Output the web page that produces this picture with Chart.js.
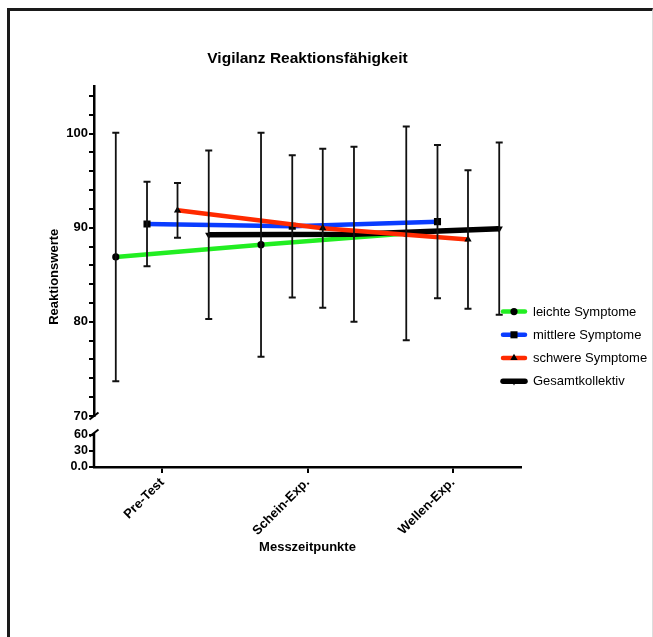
<!DOCTYPE html>
<html>
<head>
<meta charset="utf-8">
<script src="https://cdn.jsdelivr.net/npm/chart.js@4/dist/chart.umd.min.js"></script>
<style>
  html, body { margin: 0; padding: 0; background: #fff; }
  #page { position: absolute; left: 7px; top: 8px; width: 642px; height: 640px;
          border-top: 3px solid #1a1a1a; border-left: 3px solid #1a1a1a; border-right: 1px solid #ddd; }
  #c { position: absolute; left: 0; top: 0; z-index: 2; }
</style>
</head>
<body>
<div id="page"></div>
<canvas id="c" width="653" height="637"></canvas>
<script>
// ---- data ----
const categories = ['Pre-Test', 'Schein-Exp.', 'Wellen-Exp.'];
const seriesNames = ['leichte Symptome', 'mittlere Symptome', 'schwere Symptome', 'Gesamtkollektiv'];
const leichteMean  = [86.9, 88.2, 89.4];
const leichteSD    = [13.2, 11.9, 11.35];
const mittlereMean = [90.4, 90.15, 90.65];
const mittlereSD   = [4.5, 7.55, 8.15];
const schwereMean  = [91.85, 89.95, 88.75];
const schwereSD    = [2.9, 8.45, 7.35];
const gesamtMean   = [89.25, 89.3, 89.9];
const gesamtSD     = [8.95, 9.3, 9.15];
const yUpperLabels = [70, 80, 90, 100];
const yLowerTicks  = [0, 30, 60];
const chartTitle = 'Vigilanz Reaktionsfähigkeit';
const xTitle = 'Messzeitpunkte';
const yTitle = 'Reaktionswerte';

// ---- styling / dodge ----
const FONT = "'Liberation Sans', Arial, Helvetica, sans-serif";
const dodge = [-0.32, -0.105, 0.105, 0.32];
const styles = [
  {color: '#22ee22', point: 'circle',   rot: 0,   radius: 3.6, width: 4.5, order: 3},
  {color: '#0a3cff', point: 'rect',     rot: 0,   radius: 5,   width: 4.5, order: 1},
  {color: '#ff2a00', point: 'triangle', rot: 0,   radius: 4.2, width: 4.5, order: 0},
  {color: '#000000', point: 'triangle', rot: 180, radius: 4.2, width: 5.5, order: 2}
];
const means = [leichteMean, mittlereMean, schwereMean, gesamtMean];
const sds = [leichteSD, mittlereSD, schwereSD, gesamtSD];

const datasets = seriesNames.map((name, s) => ({
  label: name,
  data: means[s].map((m, i) => ({x: i + dodge[s], y: m})),
  errors: sds[s],
  yAxisID: 'y',
  borderColor: styles[s].color,
  backgroundColor: '#000',
  borderWidth: styles[s].width,
  pointStyle: styles[s].point,
  pointRotation: styles[s].rot,
  pointRadius: styles[s].radius,
  pointBackgroundColor: '#000',
  pointBorderColor: '#000',
  pointBorderWidth: 0,
  tension: 0,
  order: styles[s].order,
  _legendRadius: styles[s].radius
}));

function marker(ctx, style, rot, r, x, y) {
  ctx.save();
  ctx.fillStyle = '#000';
  ctx.translate(x, y);
  ctx.rotate(rot * Math.PI / 180);
  ctx.beginPath();
  if (style === 'circle') {
    ctx.arc(0, 0, r, 0, Math.PI * 2);
  } else if (style === 'rect') {
    const h = r * Math.SQRT1_2;
    ctx.rect(-h, -h, 2 * h, 2 * h);
  } else {
    ctx.moveTo(0, -r);
    ctx.lineTo(r * 0.866, r * 0.5);
    ctx.lineTo(-r * 0.866, r * 0.5);
    ctx.closePath();
  }
  ctx.fill();
  ctx.restore();
}

const decor = {
  id: 'decor',
  afterDatasetsDraw(chart) {
    const ctx = chart.ctx;
    const xs = chart.scales.x, ys = chart.scales.y;
    ctx.save();
    ctx.strokeStyle = '#111';
    chart.data.datasets.forEach(ds => {
      ds.data.forEach((p, i) => {
        const e = ds.errors[i];
        const px = xs.getPixelForValue(p.x);
        const top = ys.getPixelForValue(p.y + e);
        const bot = ys.getPixelForValue(p.y - e);
        ctx.lineWidth = 1.8;
        ctx.beginPath();
        ctx.moveTo(px, top); ctx.lineTo(px, bot);
        ctx.stroke();
        ctx.lineWidth = 2;
        ctx.beginPath();
        ctx.moveTo(px - 3.5, top); ctx.lineTo(px + 3.5, top);
        ctx.moveTo(px - 3.5, bot); ctx.lineTo(px + 3.5, bot);
        ctx.stroke();
      });
    });
    ctx.restore();
  },
  afterDraw(chart) {
    const ctx = chart.ctx;
    const a = chart.chartArea;
    const yl = chart.scales.yLow, yu = chart.scales.y;
    const ax = yu.right;
    ctx.save();
    // lower axis segment
    ctx.strokeStyle = '#000';
    ctx.lineWidth = 2.5;
    ctx.beginPath();
    ctx.moveTo(ax, yl.getPixelForValue(0) + 1);
    ctx.lineTo(ax, yl.getPixelForValue(60) - 2);
    ctx.stroke();
    // break marks
    ctx.lineWidth = 2;
    const b1 = yu.getPixelForValue(70), b2 = yl.getPixelForValue(60) - 2;
    [b1, b2].forEach(by => {
      ctx.beginPath();
      ctx.moveTo(ax - 4.5, by + 3.5);
      ctx.lineTo(ax + 4.5, by - 3.5);
      ctx.stroke();
    });
    // y title
    ctx.fillStyle = '#000';
    ctx.font = 'bold 13px ' + FONT;
    ctx.textAlign = 'center';
    ctx.textBaseline = 'middle';
    ctx.translate(a.left - 40, (a.top + a.bottom) / 2);
    ctx.rotate(-Math.PI / 2);
    ctx.fillText(yTitle, 0, 0);
    ctx.restore();
    // legend
    ctx.save();
    chart.data.datasets.forEach((ds, k) => {
      const y = a.top + 225 + k * 23.2;
      const x0 = a.right - 18, x1 = a.right + 4;
      ctx.strokeStyle = ds.borderColor;
      ctx.lineWidth = ds.borderWidth;
      ctx.lineCap = 'round';
      ctx.beginPath();
      ctx.moveTo(x0, y); ctx.lineTo(x1, y);
      ctx.stroke();
      marker(ctx, ds.pointStyle, ds.pointRotation, ds._legendRadius, (x0 + x1) / 2, y);
      ctx.fillStyle = '#000';
      ctx.font = '13px ' + FONT;
      ctx.textAlign = 'left';
      ctx.textBaseline = 'middle';
      ctx.fillText(ds.label, a.right + 12, y + 0.5);
    });
    ctx.restore();
  }
};

new Chart(document.getElementById('c'), {
  type: 'line',
  data: { datasets },
  plugins: [decor],
  options: {
    responsive: false,
    animation: false,
    devicePixelRatio: 1,
    layout: { padding: { top: 8, left: 44, right: 132, bottom: 78 } },
    plugins: {
      legend: { display: false },
      tooltip: { enabled: false },
      title: {
        display: true, text: chartTitle, fullSize: false, color: '#000',
        font: { family: FONT, size: 15.5, weight: 'bold' },
        padding: { top: 41, bottom: 19 }
      }
    },
    scales: {
      x: {
        type: 'linear', position: 'bottom', min: -0.47, max: 2.47,
        afterBuildTicks: s => { s.ticks = categories.map((c, i) => ({value: i})); },
        afterFit: s => { s.height = 92; },
        ticks: {
          callback: v => categories[v], color: '#000', padding: 2,
          minRotation: 45, maxRotation: 45, autoSkip: false,
          font: { family: FONT, size: 13, weight: 'bold' }
        },
        grid: { drawOnChartArea: false, drawTicks: true, tickLength: 6, color: '#000', lineWidth: 2 },
        border: { display: true, color: '#000', width: 2.5 },
        title: { display: true, text: xTitle, color: '#000', padding: { top: 0, bottom: 4 },
                 font: { family: FONT, size: 13, weight: 'bold' } }
      },
      yLow: {
        type: 'linear', position: 'left', stack: 'yy', stackWeight: 51, min: 0, max: 95.6,
        afterBuildTicks: s => { s.ticks = yLowerTicks.map(v => ({value: v})); },
        afterFit: s => { s.width = 50; },
        ticks: { callback: v => v === 0 ? '0.0' : String(v), color: '#000', padding: 1,
                 autoSkip: false, font: { family: FONT, size: 12.5, weight: 'bold' } },
        grid: { drawOnChartArea: false, drawTicks: true, tickLength: 5, color: '#000', lineWidth: 2 },
        border: { display: false }
      },
      y: {
        type: 'linear', position: 'left', stack: 'yy', stackWeight: 329, min: 70, max: 105,
        afterBuildTicks: s => {
          const t = [];
          for (let v = 70; v <= 104; v += 2) t.push({value: v});
          s.ticks = t;
        },
        afterFit: s => { s.width = 50; },
        ticks: { callback: v => yUpperLabels.includes(v) ? String(v) : '', color: '#000', padding: 1,
                 autoSkip: false, font: { family: FONT, size: 13, weight: 'bold' } },
        grid: { drawOnChartArea: false, drawTicks: true, tickLength: 5, color: '#000', lineWidth: 2 },
        border: { display: true, color: '#000', width: 2.5 }
      }
    }
  }
});
</script>
</body>
</html>
